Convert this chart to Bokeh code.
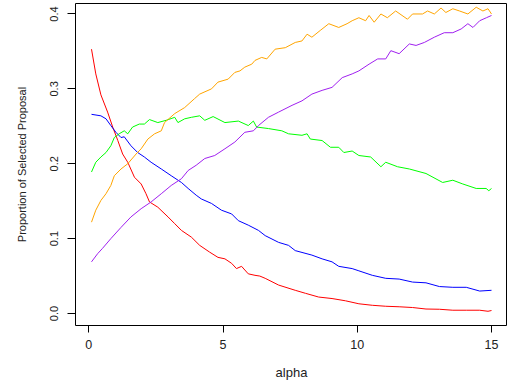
from bokeh.plotting import figure
from bokeh.models import Range1d, FixedTicker
from bokeh.embed import file_html
from bokeh.resources import INLINE

# ---- data ----
red_x = [0.1, 0.26, 0.45, 0.7, 0.89, 1.08, 1.26, 1.45, 1.7, 1.95, 2.13, 2.26, 2.57, 2.95, 3.2, 3.45,
         3.82, 4.13, 4.5, 4.81, 5.07, 5.32, 5.5, 5.69, 5.94, 6.19, 6.37, 6.57, 7.07,
         7.69, 8.07, 8.56, 9.06, 9.56, 10.06, 10.56, 11.06, 11.56, 12.06, 12.56, 13.06, 13.56, 14.06,
         14.56, 14.87, 15.0]
red_y = [0.353, 0.32, 0.292, 0.269, 0.249, 0.231, 0.213, 0.202, 0.182, 0.173, 0.16, 0.149, 0.142,
         0.129, 0.12, 0.111, 0.102, 0.091, 0.082, 0.075, 0.073, 0.067, 0.06, 0.063,
         0.053, 0.051, 0.05, 0.047, 0.038, 0.031, 0.027, 0.022, 0.02, 0.017, 0.013, 0.011, 0.0097,
         0.009, 0.008, 0.006, 0.0057, 0.0044, 0.0044, 0.0044, 0.003, 0.004]

blue_x = [0.1, 0.45, 0.64, 0.82, 1.01, 1.2, 1.32, 1.57, 1.82, 2.07, 2.32, 2.7, 3.07, 3.45, 3.7, 4.0,
          4.19, 4.57, 4.94, 5.32, 5.57, 5.94, 6.32, 6.57, 7.07, 7.44, 7.69, 8.31, 8.69,
          9.06, 9.31, 9.81, 10.06, 10.56, 11.06, 11.56, 12.06, 12.56, 13.06, 13.56, 14.06, 14.56, 15.0]
blue_y = [0.266, 0.264, 0.26, 0.251, 0.242, 0.235, 0.236, 0.224, 0.215, 0.209, 0.202, 0.193, 0.184,
          0.175, 0.167, 0.158, 0.153, 0.147, 0.138, 0.133, 0.124, 0.118, 0.111, 0.104, 0.095,
          0.091, 0.084, 0.078, 0.073, 0.069, 0.063, 0.06, 0.057, 0.051, 0.047, 0.046, 0.042, 0.041,
          0.036, 0.035, 0.035, 0.03, 0.031]

green_x = [0.1, 0.26, 0.45, 0.64, 0.82, 0.95, 1.13, 1.32, 1.45, 1.63, 1.88, 2.07, 2.26, 2.57, 2.88,
           3.2, 3.32, 3.57, 3.82, 4.13, 4.32, 4.63, 5.07, 5.57, 5.94, 6.13, 6.25, 6.69, 7.19, 7.44,
           7.94, 8.13, 8.25, 8.69, 9.0, 9.31, 9.5, 9.81, 10.06, 10.5, 10.88, 11.06, 11.5, 11.94, 12.56,
           13.18, 13.56, 13.93, 14.43, 14.8, 14.9, 15.0]
green_y = [0.189, 0.202, 0.209, 0.215, 0.224, 0.235, 0.24, 0.244, 0.24, 0.249, 0.253, 0.253, 0.259,
           0.255, 0.258, 0.262, 0.255, 0.26, 0.262, 0.264, 0.258, 0.263, 0.255, 0.257, 0.251, 0.257,
           0.249, 0.247, 0.244, 0.24, 0.238, 0.24, 0.233, 0.231, 0.222, 0.222, 0.215, 0.217, 0.211,
           0.209, 0.196, 0.202, 0.196, 0.193, 0.187, 0.175, 0.178, 0.173, 0.167, 0.167, 0.164, 0.167]

orange_x = [0.1, 0.26, 0.45, 0.64, 0.82, 0.95, 1.2, 1.45, 1.76, 1.95, 2.2, 2.45, 2.7, 2.82,
            3.2, 3.57, 3.94, 4.13, 4.57, 4.81, 5.19, 5.44, 5.63, 5.81, 6.07, 6.19, 6.44, 6.63,
            6.94, 7.32, 7.69, 7.94, 8.13, 8.31, 8.62, 8.94, 9.31, 9.62, 9.81, 10.06, 10.31, 10.44,
            10.63, 10.88, 11.12, 11.43, 11.87, 12.06, 12.43, 12.62, 12.87, 13.12, 13.3, 13.56,
            13.81, 14.12, 14.43, 14.68, 14.87, 15.0]
orange_y = [0.122, 0.138, 0.151, 0.16, 0.171, 0.184, 0.193, 0.2, 0.213, 0.22, 0.233, 0.24, 0.244,
            0.255, 0.267, 0.275, 0.287, 0.293, 0.3, 0.309, 0.313, 0.322, 0.324, 0.329,
            0.333, 0.338, 0.342, 0.34, 0.353, 0.355, 0.362, 0.364, 0.373, 0.369, 0.378, 0.387,
            0.382, 0.387, 0.391, 0.395, 0.391, 0.398, 0.389, 0.4, 0.395, 0.404, 0.393, 0.4, 0.4,
            0.404, 0.4, 0.408, 0.402, 0.407, 0.404, 0.4, 0.409, 0.404, 0.407, 0.4]

purple_x = [0.1, 0.33, 0.51, 0.82, 1.2, 1.57, 1.95, 2.32, 2.7, 3.07, 3.45, 3.7, 4.0, 4.32, 4.69,
            5.07, 5.44, 5.81, 6.13, 6.32, 6.69, 7.07, 7.57, 7.94, 8.31, 8.69,
            9.06, 9.44, 9.81, 10.06, 10.44, 10.76, 11.06, 11.25, 11.56, 11.94, 12.19, 12.5, 12.87,
            13.24, 13.56, 13.87, 14.12, 14.31, 14.56, 14.81, 15.0]
purple_y = [0.069, 0.08, 0.087, 0.1, 0.115, 0.129, 0.14, 0.149, 0.16, 0.171, 0.18, 0.191, 0.198,
            0.207, 0.211, 0.22, 0.229, 0.242, 0.244, 0.251, 0.262, 0.269, 0.278, 0.284, 0.293,
            0.298, 0.302, 0.315, 0.32, 0.324, 0.333, 0.34, 0.34, 0.351, 0.347,
            0.36, 0.358, 0.362, 0.369, 0.375, 0.375, 0.38, 0.387, 0.382, 0.391, 0.395, 0.398]

x_ticks = [0, 5, 10, 15]
y_ticks = [0.0, 0.1, 0.2, 0.3, 0.4]
x_title = "alpha"
y_title = "Proportion of Selected Proposal"

FONT = "Liberation Sans"

p = figure(width=507, height=385, output_backend="svg", toolbar_location=None,
           x_range=Range1d(-0.496, 15.596), y_range=Range1d(-0.016, 0.414),
           min_border_left=75, min_border_right=0, min_border_top=3, min_border_bottom=60)
p.background_fill_color = "white"
p.border_fill_color = "white"
p.outline_line_color = "black"
p.outline_line_width = 1
p.xgrid.visible = False
p.ygrid.visible = False

series = [(red_x, red_y, "#FF0000"), (blue_x, blue_y, "#0000FF"), (green_x, green_y, "#00FF00"),
          (orange_x, orange_y, "#FFA500"), (purple_x, purple_y, "#A020F0")]
for xs, ys, c in series:
    p.line(xs, ys, line_color=c, line_width=1)

p.xaxis.ticker = FixedTicker(ticks=x_ticks)
p.yaxis.ticker = FixedTicker(ticks=y_ticks)
p.xaxis.major_label_overrides = {0: "0", 5: "5", 10: "10", 15: "15"}
p.yaxis.major_label_overrides = {0: "0.0", 0.1: "0.1", 0.2: "0.2", 0.3: "0.3", 0.4: "0.4"}

for ax in (p.xaxis[0], p.yaxis[0]):
    ax.axis_line_color = None
    ax.major_tick_line_color = "black"
    ax.minor_tick_line_color = None
    ax.major_tick_in = 0
    ax.major_label_text_font = FONT
    ax.major_label_text_color = "#222222"
    ax.axis_label_text_font = FONT
    ax.axis_label_text_font_style = "normal"
    ax.axis_label_text_color = "#222222"

p.xaxis.axis_label = x_title
p.xaxis.major_tick_out = 7
p.xaxis.major_label_standoff = 7
p.xaxis.major_label_text_font_size = "12.5px"
p.xaxis.axis_label_text_font_size = "13px"
p.xaxis.axis_label_standoff = 13

p.yaxis.axis_label = y_title
p.yaxis.major_tick_out = 8
p.yaxis.major_label_standoff = 9
p.yaxis.major_label_orientation = "vertical"
p.yaxis.major_label_text_font_size = "11px"
p.yaxis.axis_label_text_font_size = "11px"
p.yaxis.axis_label_standoff = 20

open("out.html", "w").write(file_html(p, INLINE))
